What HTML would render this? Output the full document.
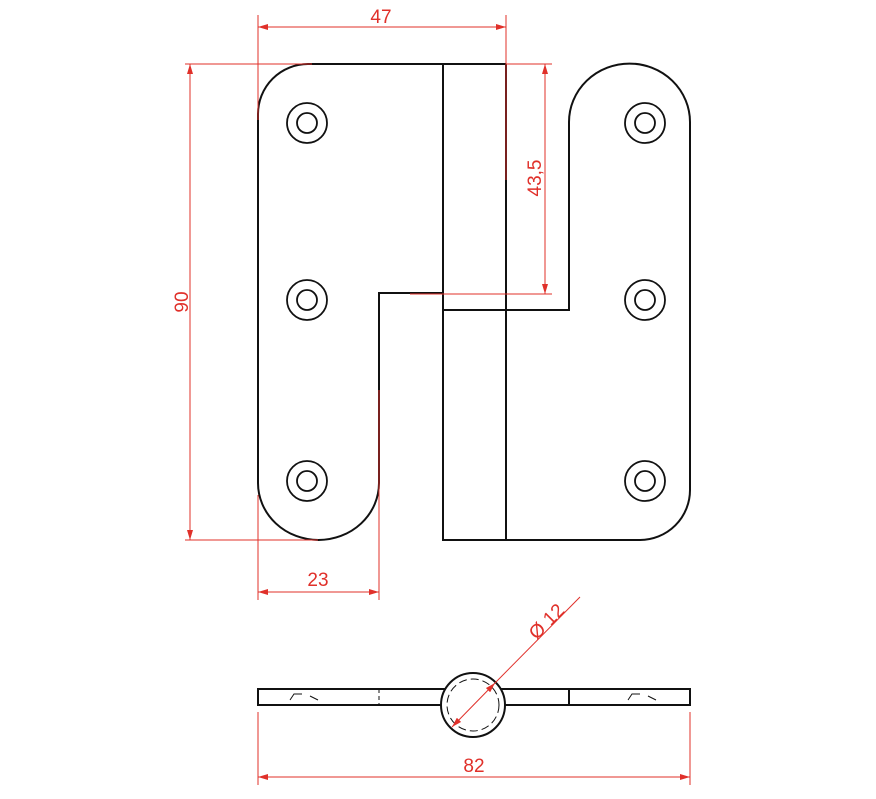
<!DOCTYPE html>
<html><head><style>body{margin:0;background:#fff}svg{display:block}</style></head>
<body>
<svg width="876" height="799" viewBox="0 0 876 799" xmlns="http://www.w3.org/2000/svg">
<defs>
<marker id="a" viewBox="0 0 10 6" refX="10" refY="3" markerWidth="10" markerHeight="6" orient="auto-start-reverse" markerUnits="userSpaceOnUse"><path d="M0,0L10,3L0,6z" fill="#e0302a"/></marker>
</defs>
<g fill="none" stroke="#111" stroke-width="2">
<path d="M258,483 V114 A50,50 0 0 1 308,64 H506"/>
<path d="M443,64 V540 H506 V64"/>
<path d="M258,483 A60.5,57 0 0 0 379,483 V293 H443"/>
<path d="M443,310 H569 V122 A60,58 0 0 1 690,122 V490 A50,50 0 0 1 640,540 H506"/>
<g stroke-width="1.8">
<circle cx="307" cy="123" r="20"/><circle cx="307" cy="123" r="10"/>
<circle cx="307" cy="300" r="20"/><circle cx="307" cy="300" r="10"/>
<circle cx="307" cy="481" r="20"/><circle cx="307" cy="481" r="10"/>
<circle cx="645" cy="123" r="20"/><circle cx="645" cy="123" r="10"/>
<circle cx="645" cy="300" r="20"/><circle cx="645" cy="300" r="10"/>
<circle cx="645" cy="481" r="20"/><circle cx="645" cy="481" r="10"/>
</g>
<path d="M258,689 H690 V705 H258 Z"/>
<line x1="569" y1="689" x2="569" y2="705"/>
<circle cx="473" cy="705" r="32" fill="#fff"/>
<circle cx="473" cy="705" r="26" stroke-width="1" stroke-dasharray="8,4"/>
<line x1="379" y1="689" x2="379" y2="705" stroke-width="1" stroke-dasharray="4,3"/>
<path d="M290,700 l4,-6 l8,0 M310,696 l8,4 M628,700 l4,-6 l8,0 M648,696 l8,4" stroke-width="1"/>
</g>
<g stroke="#e0302a" stroke-width="1" fill="none">
<line x1="258" y1="15" x2="258" y2="120"/>
<line x1="506" y1="15" x2="506" y2="180"/>
<line x1="258" y1="27" x2="506" y2="27" marker-start="url(#a)" marker-end="url(#a)"/>
<line x1="185" y1="64" x2="312" y2="64"/>
<line x1="185" y1="540" x2="318" y2="540"/>
<line x1="190" y1="64" x2="190" y2="540" marker-start="url(#a)" marker-end="url(#a)"/>
<line x1="506" y1="64" x2="552" y2="64"/>
<line x1="410" y1="294" x2="552" y2="294"/>
<line x1="545" y1="64" x2="545" y2="294" marker-start="url(#a)" marker-end="url(#a)"/>
<line x1="258" y1="495" x2="258" y2="600"/>
<line x1="379" y1="390" x2="379" y2="600"/>
<line x1="258" y1="592" x2="379" y2="592" marker-start="url(#a)" marker-end="url(#a)"/>
<line x1="258" y1="712" x2="258" y2="785"/>
<line x1="690" y1="712" x2="690" y2="785"/>
<line x1="258" y1="777" x2="690" y2="777" marker-start="url(#a)" marker-end="url(#a)"/>
<line x1="452" y1="727" x2="495" y2="683" marker-start="url(#a)" marker-end="url(#a)"/>
<line x1="495" y1="683" x2="580" y2="597"/>
</g>
<g fill="#e0302a" font-family="Liberation Sans, sans-serif" font-size="19" text-anchor="middle">
<text x="381" y="23">47</text>
<text x="318" y="586">23</text>
<text x="474" y="772">82</text>
<text transform="translate(188,302) rotate(-90)">90</text>
<text transform="translate(541,178) rotate(-90)">43,5</text>
<text transform="translate(551,626) rotate(-45)">Ø 12</text>
</g>
</svg>
</body></html>
